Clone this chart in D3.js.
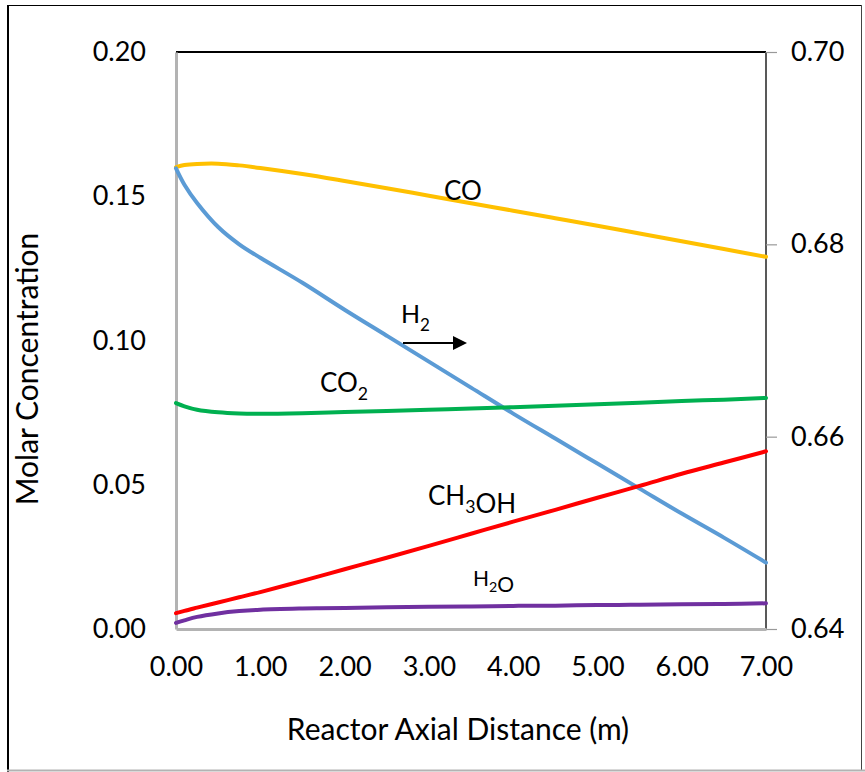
<!DOCTYPE html>
<html><head><meta charset="utf-8">
<script src="https://cdn.jsdelivr.net/npm/d3@7"></script>
<style>html,body{margin:0;padding:0;background:#fff;}svg{display:block;font-family:Lato,"Open Sans",sans-serif;}</style>
</head><body><svg id="c" width="865" height="772"></svg>
<script>
const distance = [0, 0.1, 0.25, 0.5, 0.75, 1, 1.5, 2, 2.5, 3, 3.5, 4, 4.5, 5, 5.5, 6, 6.5, 7];
const coValues    = [0.1601,0.1608,0.1612,0.1613,0.1607,0.1598,0.1577,0.1553,0.1528,0.1502,0.1476,0.1450,0.1424,0.1398,0.1371,0.1344,0.1317,0.1290];
const h2Values    = [0.6879,0.6862,0.6843,0.6818,0.6800,0.6786,0.6760,0.6732,0.6705,0.6678,0.6651,0.6624,0.6598,0.6572,0.6546,0.6520,0.6495,0.6469];
const co2Values   = [0.0783,0.0772,0.0760,0.0751,0.0747,0.0746,0.0748,0.0752,0.0756,0.0760,0.0764,0.0769,0.0774,0.0779,0.0784,0.0790,0.0795,0.0801];
const ch3ohValues = [0.0055,0.0063,0.0074,0.0092,0.0110,0.0128,0.0167,0.0207,0.0247,0.0288,0.0330,0.0372,0.0413,0.0455,0.0496,0.0538,0.0577,0.0616];
const h2oValues   = [0.0021,0.0030,0.0042,0.0054,0.0062,0.0067,0.0071,0.0073,0.0075,0.0077,0.0078,0.0080,0.0081,0.0083,0.0084,0.0086,0.0087,0.0089];
const xTicks = [0,1,2,3,4,5,6,7];
const yLeftTicks = [0,0.05,0.10,0.15,0.20];
const yRightTicks = [0.64,0.66,0.68,0.70];

const svg = d3.select('#c');
const L=176, R=766, T=52, B=629;
const x = d3.scaleLinear().domain([0,7]).range([L,R]);
const yL = d3.scaleLinear().domain([0,0.2]).range([B,T]);
const yR = d3.scaleLinear().domain([0.64,0.70]).range([B,T]);

// outer frame
svg.append('line').attr('x1',8).attr('x2',8).attr('y1',5).attr('y2',772).attr('stroke','#000').attr('stroke-width',2);
svg.append('line').attr('x1',7).attr('x2',862).attr('y1',5.5).attr('y2',5.5).attr('stroke','#000').attr('stroke-width',1);
svg.append('line').attr('x1',861.5).attr('x2',861.5).attr('y1',5).attr('y2',771).attr('stroke','#444').attr('stroke-width',1);
svg.append('line').attr('x1',7).attr('x2',865).attr('y1',770.5).attr('y2',770.5).attr('stroke','#b3b3b3').attr('stroke-width',2);

// top border
svg.append('line').attr('x1',L).attr('x2',R).attr('y1',T).attr('y2',T).attr('stroke','#000').attr('stroke-width',2);

// right axis
const rAx = svg.append('g').attr('transform',`translate(${R},0)`)
  .call(d3.axisRight(yR).tickValues(yRightTicks).tickFormat(d3.format('.2f')).tickSize(11).tickPadding(14));
rAx.select('.domain').attr('stroke','#595959').attr('stroke-width',2).attr('d',`M0,${T}V${B}`);
rAx.selectAll('.tick line').attr('stroke','#999').attr('stroke-width',1.2);
rAx.selectAll('.tick text').attr('font-size',27).attr('fill','#000').attr('font-family','Lato');

// left axis
const lAx = svg.append('g').attr('transform',`translate(${L},0)`)
  .call(d3.axisLeft(yL).tickValues(yLeftTicks).tickFormat(d3.format('.2f')).tickSize(0).tickPadding(30));
lAx.select('.domain').attr('stroke','#b3b3b3').attr('stroke-width',3);
lAx.selectAll('.tick text').attr('font-size',27).attr('fill','#000').attr('font-family','Lato');

// bottom axis
const bAx = svg.append('g').attr('transform',`translate(0,${B})`)
  .call(d3.axisBottom(x).tickValues(xTicks).tickFormat(d3.format('.2f')).tickSize(0).tickPadding(28));
bAx.select('.domain').attr('stroke','#b3b3b3').attr('stroke-width',3);
bAx.selectAll('.tick text').attr('font-size',27).attr('fill','#000').attr('font-family','Lato');

// titles
svg.append('text').attr('transform','translate(38,369) rotate(-90)').attr('text-anchor','middle')
  .attr('font-size',30).text('Molar Concentration');
svg.append('text').attr('x',458).attr('y',740).attr('text-anchor','middle')
  .attr('font-size',30).text('Reactor Axial Distance (m)');

// series
const series = [
  {vals: coValues, y: yL, color:'#FFC000'},
  {vals: h2Values, y: yR, color:'#5B9BD5'},
  {vals: co2Values, y: yL, color:'#00B050'},
  {vals: ch3ohValues, y: yL, color:'#FF0000'},
  {vals: h2oValues, y: yL, color:'#7030A0'}
];
series.forEach(s=>{
  const line = d3.line().x((d,i)=>x(distance[i])).y(d=>s.y(d)).curve(d3.curveCatmullRom.alpha(0.5));
  svg.append('path').datum(s.vals).attr('d',line).attr('fill','none')
    .attr('stroke',s.color).attr('stroke-width',4).attr('stroke-linecap','round');
});

// labels
function label(px,py,parts,size){
  const t = svg.append('text').attr('x',px).attr('y',py).attr('font-size',size).attr('fill','#000');
  parts.forEach(p=>{
    if(p.sub){ t.append('tspan').attr('dy',size*0.3).attr('font-size',size*0.68).text(p.t);
               t.append('tspan').attr('dy',-size*0.3).text(''); }
    else t.append('tspan').text(p.t);
  });
  return t;
}
label(444,200,[{t:'CO'}],26);
label(401,323,[{t:'H'},{t:'2',sub:true}],25);
label(320,392,[{t:'CO'},{t:'2',sub:true}],26);
label(428,505,[{t:'CH'},{t:'3',sub:true},{t:'OH'}],26);
label(473,586,[{t:'H'},{t:'2',sub:true},{t:'O'}],21);

// arrow
const defs = svg.append('defs');
defs.append('marker').attr('id','ah').attr('viewBox','0 0 10 10').attr('refX',0).attr('refY',5)
  .attr('markerWidth',7).attr('markerHeight',7.5).attr('markerUnits','strokeWidth').attr('orient','auto')
  .append('path').attr('d','M0,0L10,5L0,10Z').attr('fill','#000');
svg.append('line').attr('x1',403).attr('x2',453).attr('y1',343).attr('y2',343)
  .attr('stroke','#000').attr('stroke-width',2).attr('marker-end','url(#ah)');
</script></body></html>
